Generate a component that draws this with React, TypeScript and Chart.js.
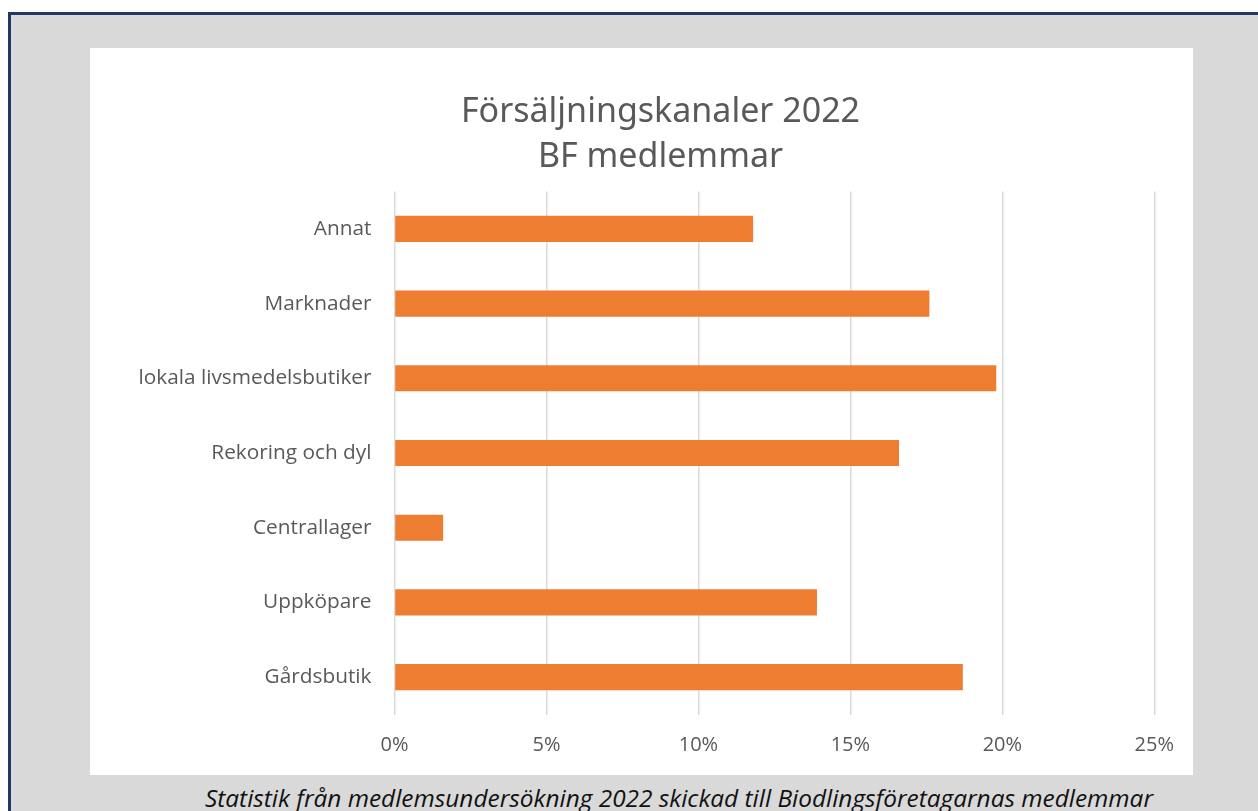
import React, { useEffect, useRef } from "react";
import { Chart, registerables } from "chart.js";

Chart.register(...registerables);

const categories = [
  "Annat",
  "Marknader",
  "lokala livsmedelsbutiker",
  "Rekoring och dyl",
  "Centrallager",
  "Uppköpare",
  "Gårdsbutik",
];
const shares = [11.8, 17.6, 19.8, 16.6, 1.6, 13.9, 18.7];
const xTicks = [0, 5, 10, 15, 20, 25];
const titleLines = ["Försäljningskanaler 2022", "BF medlemmar"];
const caption =
  "Statistik från medlemsundersökning 2022 skickad till Biodlingsföretagarnas medlemmar";

const CARD_W = 1103;
const CARD_H = 727;

export default function App() {
  const ref = useRef<HTMLCanvasElement | null>(null);

  useEffect(() => {
    document.body.style.margin = "0";
    if (!ref.current) return;
    const chart = new Chart(ref.current, {
      type: "bar",
      data: {
        labels: categories,
        datasets: [
          {
            data: shares,
            backgroundColor: "#ED7D31",
            borderWidth: 0,
            categoryPercentage: 1,
            barPercentage: 0.35,
          },
        ],
      },
      options: {
        indexAxis: "y",
        animation: false,
        responsive: false,
        devicePixelRatio: 1,
        layout: { padding: { top: 143.5, right: 38, bottom: 0, left: 0 } },
        plugins: {
          legend: { display: false },
          title: { display: false },
          tooltip: { enabled: false },
        },
        scales: {
          x: {
            min: 0,
            max: 25,
            afterBuildTicks: (s: any) => {
              s.ticks = xTicks.map((v) => ({ value: v }));
            },
            afterFit: (s: any) => {
              s.height = 60.5;
            },
            grid: {
              color: "#d9d9d9",
              lineWidth: 1.5,
              drawTicks: false,
            },
            border: { display: false },
            ticks: {
              padding: 19,
              color: "#595959",
              font: { family: "'Open Sans', sans-serif", size: 20 },
              callback: (v: any) => `${v}%`,
            },
          },
          y: {
            afterFit: (s: any) => {
              s.width = 304.5;
            },
            grid: { display: false, drawTicks: false },
            border: { display: false },
            ticks: {
              padding: 23,
              color: "#595959",
              font: { family: "'Open Sans', sans-serif", size: 20.8 },
            },
          },
        },
      },
    });
    return () => chart.destroy();
  }, []);

  return (
    <div
      style={{
        position: "fixed",
        left: 0,
        top: 0,
        width: 1258,
        height: 811,
        overflow: "hidden",
        background: "#ffffff",
      }}
    >
      <div
        style={{
          position: "absolute",
          left: 8,
          top: 12,
          width: 1400,
          height: 1000,
          background: "#d9d9d9",
          borderTop: "3px solid #1f3864",
          borderLeft: "3px solid #1f3864",
          boxSizing: "border-box",
        }}
      />
      <div
        style={{
          position: "absolute",
          left: 90,
          top: 48,
          width: CARD_W,
          height: CARD_H,
          background: "#ffffff",
        }}
      >
        <canvas
          ref={ref}
          width={CARD_W}
          height={CARD_H}
          style={{ width: CARD_W, height: CARD_H, display: "block" }}
        />
        <div
          style={{
            position: "absolute",
            left: 0,
            top: 39,
            width: CARD_W + 38,
            textAlign: "center",
            fontFamily: "'Noto Sans', sans-serif",
            fontSize: 34,
            lineHeight: "45px",
            color: "#595959",
          }}
        >
          {titleLines.map((t) => (
            <div key={t}>{t}</div>
          ))}
        </div>
      </div>
      <div
        style={{
          position: "absolute",
          left: 205,
          top: 783,
          whiteSpace: "nowrap",
          fontFamily: "'Open Sans', sans-serif",
          fontStyle: "italic",
          fontSize: 24.4,
          lineHeight: "30px",
          color: "#111111",
        }}
      >
        {caption}
      </div>
    </div>
  );
}
